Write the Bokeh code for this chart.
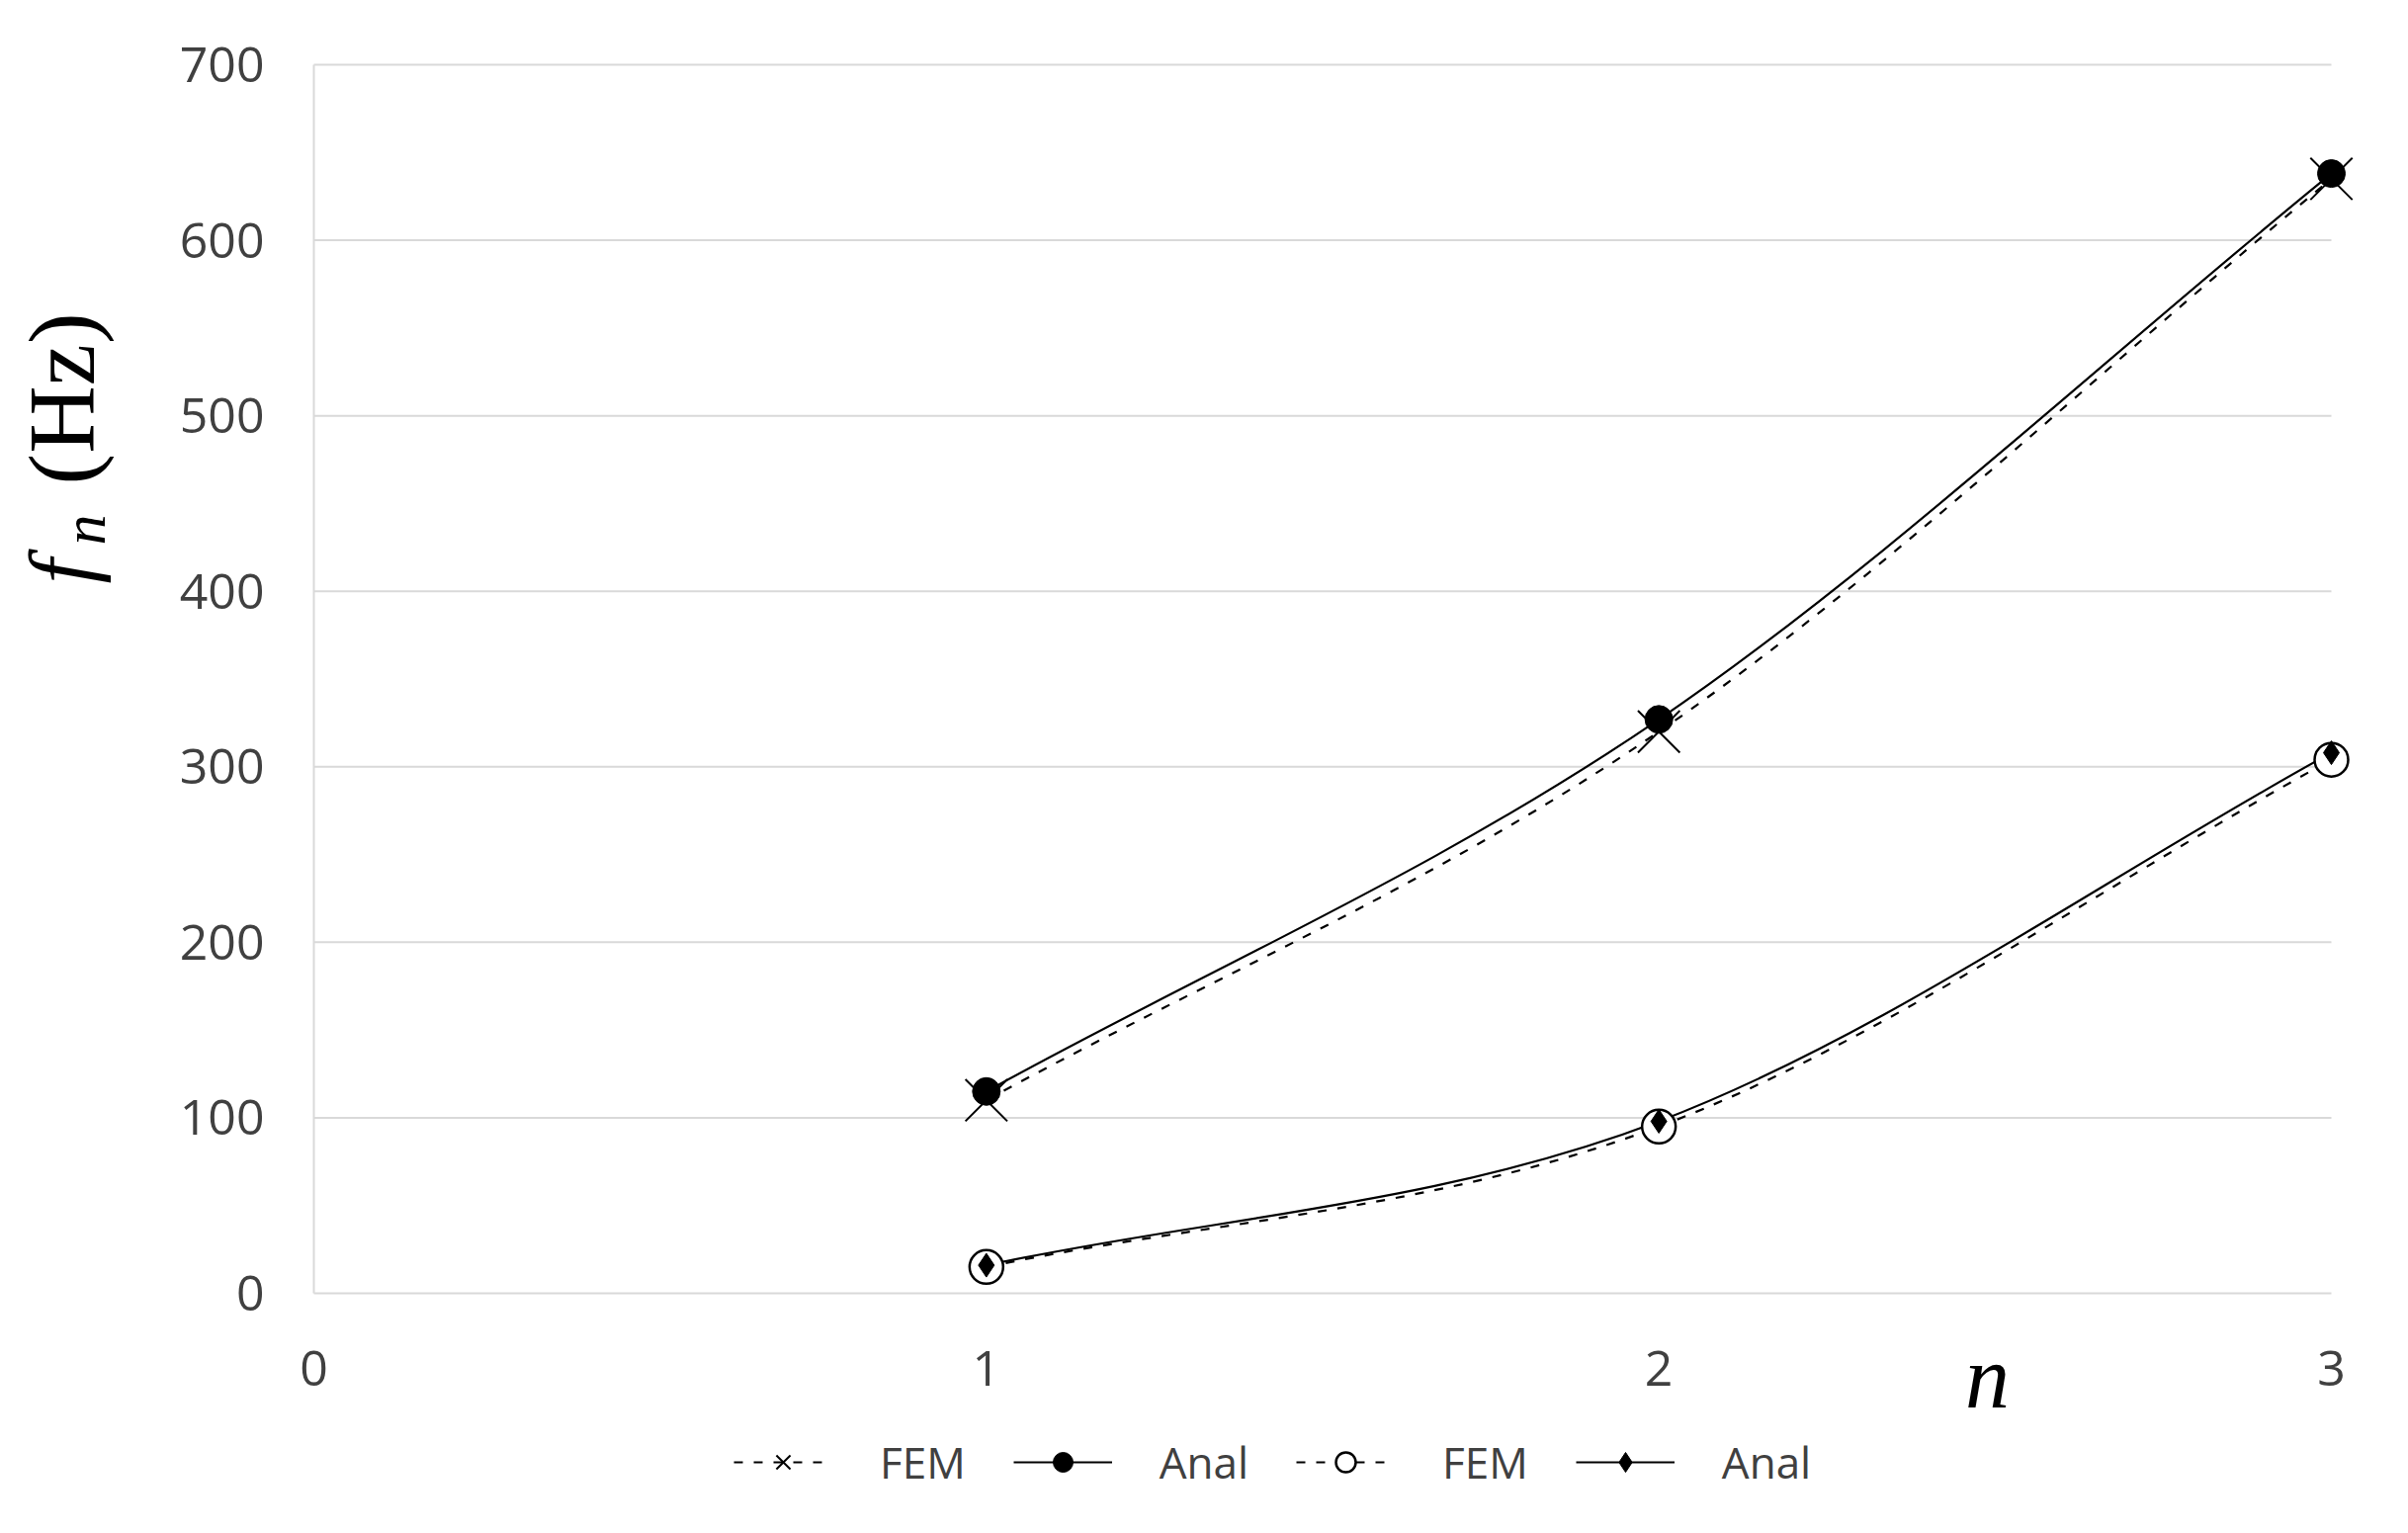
import math
import numpy as np
from bokeh.plotting import figure
from bokeh.models import (Range1d, FixedTicker, Legend, LegendItem, Label,
                          ColumnDataSource)
from bokeh.embed import file_html
from bokeh.resources import INLINE

# ---- data ----
n_values = [1, 2, 3]
fem_a = [110, 320, 635]     # dashed line, x markers
anal_a = [115, 327, 638]    # solid line, filled circles
fem_b = [15, 95, 304]       # dashed line, open circles
anal_b = [16, 98, 308]      # solid line, small diamonds

x_ticks = [0, 1, 2, 3]
y_ticks = [0, 100, 200, 300, 400, 500, 600, 700]
legend_labels = ["FEM", "Anal", "FEM", "Anal"]

TEXT = "#404040"
GRID = "#d9d9d9"

# ---- layout (pixels of the page) ----
W, H = 2436, 1551
PL, PR, PT, PB = 317, 2358, 65, 1308   # where the axis box (0..3, 0..700) sits


def smooth_source(xs, ys):
    """Bezier control points (Excel-like smoothing) computed from the data."""
    pts = np.column_stack([xs, ys]).astype(float)
    n = len(pts)
    d = dict(x0=[], y0=[], x1=[], y1=[], cx0=[], cy0=[], cx1=[], cy1=[])
    for i in range(n - 1):
        p1, p2 = pts[i], pts[i + 1]
        p0 = pts[i - 1] if i > 0 else 2 * p1 - p2
        p3 = pts[i + 2] if i + 2 < n else 2 * p2 - p1
        c1 = p1 + (p2 - p0) / 6.0
        c2 = p2 - (p3 - p1) / 6.0
        d["x0"].append(p1[0]); d["y0"].append(p1[1])
        d["x1"].append(p2[0]); d["y1"].append(p2[1])
        d["cx0"].append(c1[0]); d["cy0"].append(c1[1])
        d["cx1"].append(c2[0]); d["cy1"].append(c2[1])
    return ColumnDataSource(d)


xa, xb = x_ticks[0], x_ticks[-1]
ya, yb = y_ticks[0], y_ticks[-1]
kx = (PR - PL) / (xb - xa)
ky = (PB - PT) / (yb - ya)
x_range = Range1d(xa - PL / kx, xb + (W - PR) / kx)
y_range = Range1d(ya - (H - PB) / ky, yb + PT / ky)

p = figure(width=W, height=H, x_range=x_range, y_range=y_range,
           output_backend="svg", toolbar_location=None, min_border=0)
p.outline_line_color = None
p.background_fill_color = "white"
p.border_fill_color = "white"
p.xgrid.grid_line_color = None
p.ygrid.grid_line_color = None

# horizontal gridlines limited to the x tick span
p.segment(x0=[xa] * (len(y_ticks) - 1), y0=y_ticks[1:],
          x1=[xb] * (len(y_ticks) - 1), y1=y_ticks[1:],
          line_color=GRID, line_width=2)

for ax in (p.xaxis[0], p.yaxis[0]):
    ax.fixed_location = 0
    ax.axis_line_color = GRID
    ax.axis_line_width = 2
    ax.major_tick_line_color = None
    ax.minor_tick_line_color = None
    ax.major_tick_out = 0
    ax.major_tick_in = 0
    ax.major_label_text_font = "Open Sans"
    ax.major_label_text_font_size = "50px"
    ax.major_label_text_color = TEXT
p.xaxis.ticker = FixedTicker(ticks=x_ticks)
p.yaxis.ticker = FixedTicker(ticks=y_ticks)
p.xaxis.bounds = (xa, xb)
p.yaxis.bounds = (ya, yb)
p.xaxis.major_label_standoff = 58
p.yaxis.major_label_standoff = 50

DASH = "9 11"
bz = dict(x0="x0", y0="y0", x1="x1", y1="y1", cx0="cx0", cy0="cy0", cx1="cx1", cy1="cy1")

l_fem_a = p.bezier(source=smooth_source(n_values, fem_a), line_color="black",
                   line_width=2.2, line_dash=DASH, **bz)
l_anal_a = p.bezier(source=smooth_source(n_values, anal_a), line_color="black",
                    line_width=2.2, **bz)
l_fem_b = p.bezier(source=smooth_source(n_values, fem_b), line_color="black",
                   line_width=2.2, line_dash=DASH, **bz)
l_anal_b = p.bezier(source=smooth_source(n_values, anal_b), line_color="black",
                    line_width=2.2, **bz)

m_fem_a = p.scatter(n_values, fem_a, marker="x", size=60, line_color="black", line_width=2)
m_fem_b = p.scatter(n_values, fem_b, marker="circle", size=34, line_color="black",
                    line_width=2.5, fill_color="white")
m_anal_a = p.scatter(n_values, anal_a, marker="circle", size=28, line_color="black",
                     fill_color="black")
m_anal_b = p.scatter(n_values, anal_b, marker="diamond", size=24, line_color="black",
                     fill_color="black")


def sx(page_x):
    return page_x


def sy(page_y):
    return H - page_y


legend = Legend(items=[
    LegendItem(label=legend_labels[0], renderers=[l_fem_a, m_fem_a]),
    LegendItem(label=legend_labels[1], renderers=[l_anal_a, m_anal_a]),
    LegendItem(label=legend_labels[2], renderers=[l_fem_b, m_fem_b]),
    LegendItem(label=legend_labels[3], renderers=[l_anal_b, m_anal_b]),
], orientation="horizontal", location=(sx(742), sy(1509)),
    glyph_width=100, glyph_height=50, label_height=50, label_standoff=48,
    spacing=48, padding=0, margin=0, border_line_color=None,
    background_fill_alpha=0, label_text_font="Open Sans",
    label_text_font_size="44px", label_text_color=TEXT)
p.add_layout(legend)

# y axis title: f_n (Hz), rotated
SERIF = "Liberation Serif"
p.add_layout(Label(x=sx(62), y=sy(590), x_units="screen", y_units="screen", text="f",
                   angle=math.pi / 2, text_font=SERIF, text_font_style="italic",
                   text_font_size="90px", text_color="black",
                   text_align="left", text_baseline="alphabetic"))
p.add_layout(Label(x=sx(84), y=sy(551), x_units="screen", y_units="screen", text="n",
                   angle=math.pi / 2, text_font=SERIF, text_font_style="italic",
                   text_font_size="62px", text_color="black",
                   text_align="left", text_baseline="alphabetic"))
p.add_layout(Label(x=sx(62), y=sy(490), x_units="screen", y_units="screen", text="(Hz)",
                   angle=math.pi / 2, text_font=SERIF,
                   text_font_size="95px", text_color="black",
                   text_align="left", text_baseline="alphabetic"))
# x axis title: n
p.add_layout(Label(x=sx(2010), y=sy(1393), x_units="screen", y_units="screen", text="n",
                   text_font=SERIF, text_font_style="italic",
                   text_font_size="90px", text_color="black",
                   text_align="center", text_baseline="alphabetic"))

open("out.html", "w").write(file_html(p, INLINE))
